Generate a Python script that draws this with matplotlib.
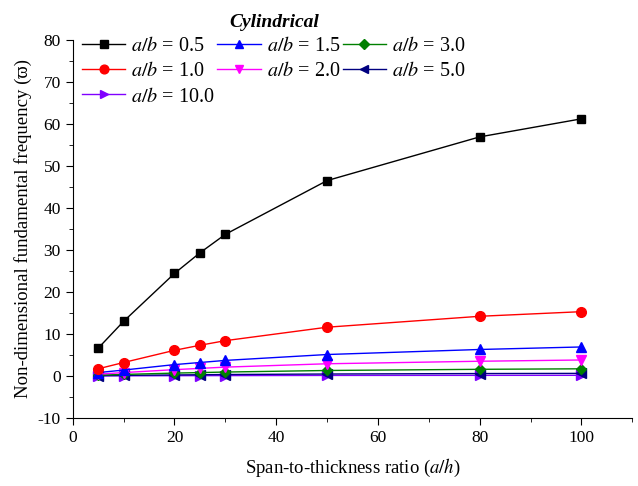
import matplotlib
matplotlib.use("Agg")
import matplotlib.pyplot as plt
from matplotlib.ticker import MultipleLocator

plt.rcParams['font.family'] = ['Liberation Serif', 'DejaVu Serif']
plt.rcParams['mathtext.fontset'] = 'stix'
plt.rcParams['axes.unicode_minus'] = False

ratio = [5, 10, 20, 25, 30, 50, 80, 100]
ab_labels = ['0.5', '1.0', '10.0', '1.5', '2.0', '3.0', '5.0']
freq_05 = [6.6, 13.0, 24.4, 29.3, 33.7, 46.5, 56.9, 61.2]
freq_10 = [1.7, 3.2, 6.1, 7.3, 8.4, 11.6, 14.2, 15.3]
freq_100 = [0.02, 0.03, 0.06, 0.07, 0.08, 0.12, 0.14, 0.15]
freq_15 = [0.8, 1.4, 2.7, 3.2, 3.7, 5.1, 6.3, 6.9]
freq_20 = [0.42, 0.8, 1.5, 1.8, 2.1, 2.9, 3.5, 3.8]
freq_30 = [0.19, 0.36, 0.68, 0.8, 0.93, 1.3, 1.58, 1.7]
freq_50 = [0.07, 0.13, 0.24, 0.29, 0.34, 0.46, 0.57, 0.61]

series = [freq_05, freq_10, freq_100, freq_15, freq_20, freq_30, freq_50]
colors = ['black', 'red', '#8000ff', 'blue', 'magenta', 'green', 'navy']
markers = ['s', 'o', '>', '^', 'v', 'D', '<']
sizes = [6, 7, 7, 7, 7, 5.5, 7]

fig = plt.figure(figsize=(6.38, 4.86), dpi=100)
ax = fig.add_axes([0.114, 0.14, 0.877, 0.778])

# draw small-value series first so black/red sit on top like the original
order = [2, 6, 5, 4, 3, 1, 0]
handles = [None] * len(series)
for i in order:
    h, = ax.plot(ratio, series[i], color=colors[i], marker=markers[i],
                 markersize=sizes[i], linewidth=1, label=f'$a/b$ = {ab_labels[i]}')
    handles[i] = h

ax.set_xlim(0, 110)
ax.set_ylim(-10, 80)
ax.xaxis.set_major_locator(MultipleLocator(20))
ax.xaxis.set_minor_locator(MultipleLocator(10))
ax.yaxis.set_major_locator(MultipleLocator(10))
ax.yaxis.set_minor_locator(MultipleLocator(5))
ax.spines['top'].set_visible(False)
ax.spines['right'].set_visible(False)
ax.tick_params(which='both', direction='out', labelsize=12.5)
ax.tick_params(which='major', length=5)
ax.tick_params(which='minor', length=3)

ax.set_xlabel('Span-to-thickness ratio ($a/h$)', fontsize=13.5, labelpad=8)
ax.set_ylabel('Non-dimensional fundamental frequency (ϖ)', fontsize=13.5)

leg = ax.legend(handles=handles, ncol=3, loc='upper left', bbox_to_anchor=(-0.005, 1.1),
                frameon=False, fontsize=14.5, handlelength=2.15, columnspacing=0.12,
                handletextpad=0.3, labelspacing=0.3, borderaxespad=0.2,
                markerscale=0.9, title='Cylindrical',
                title_fontproperties={'weight': 'bold', 'style': 'italic', 'size': 14})

plt.savefig('out.png', dpi=100)
plt.close()
